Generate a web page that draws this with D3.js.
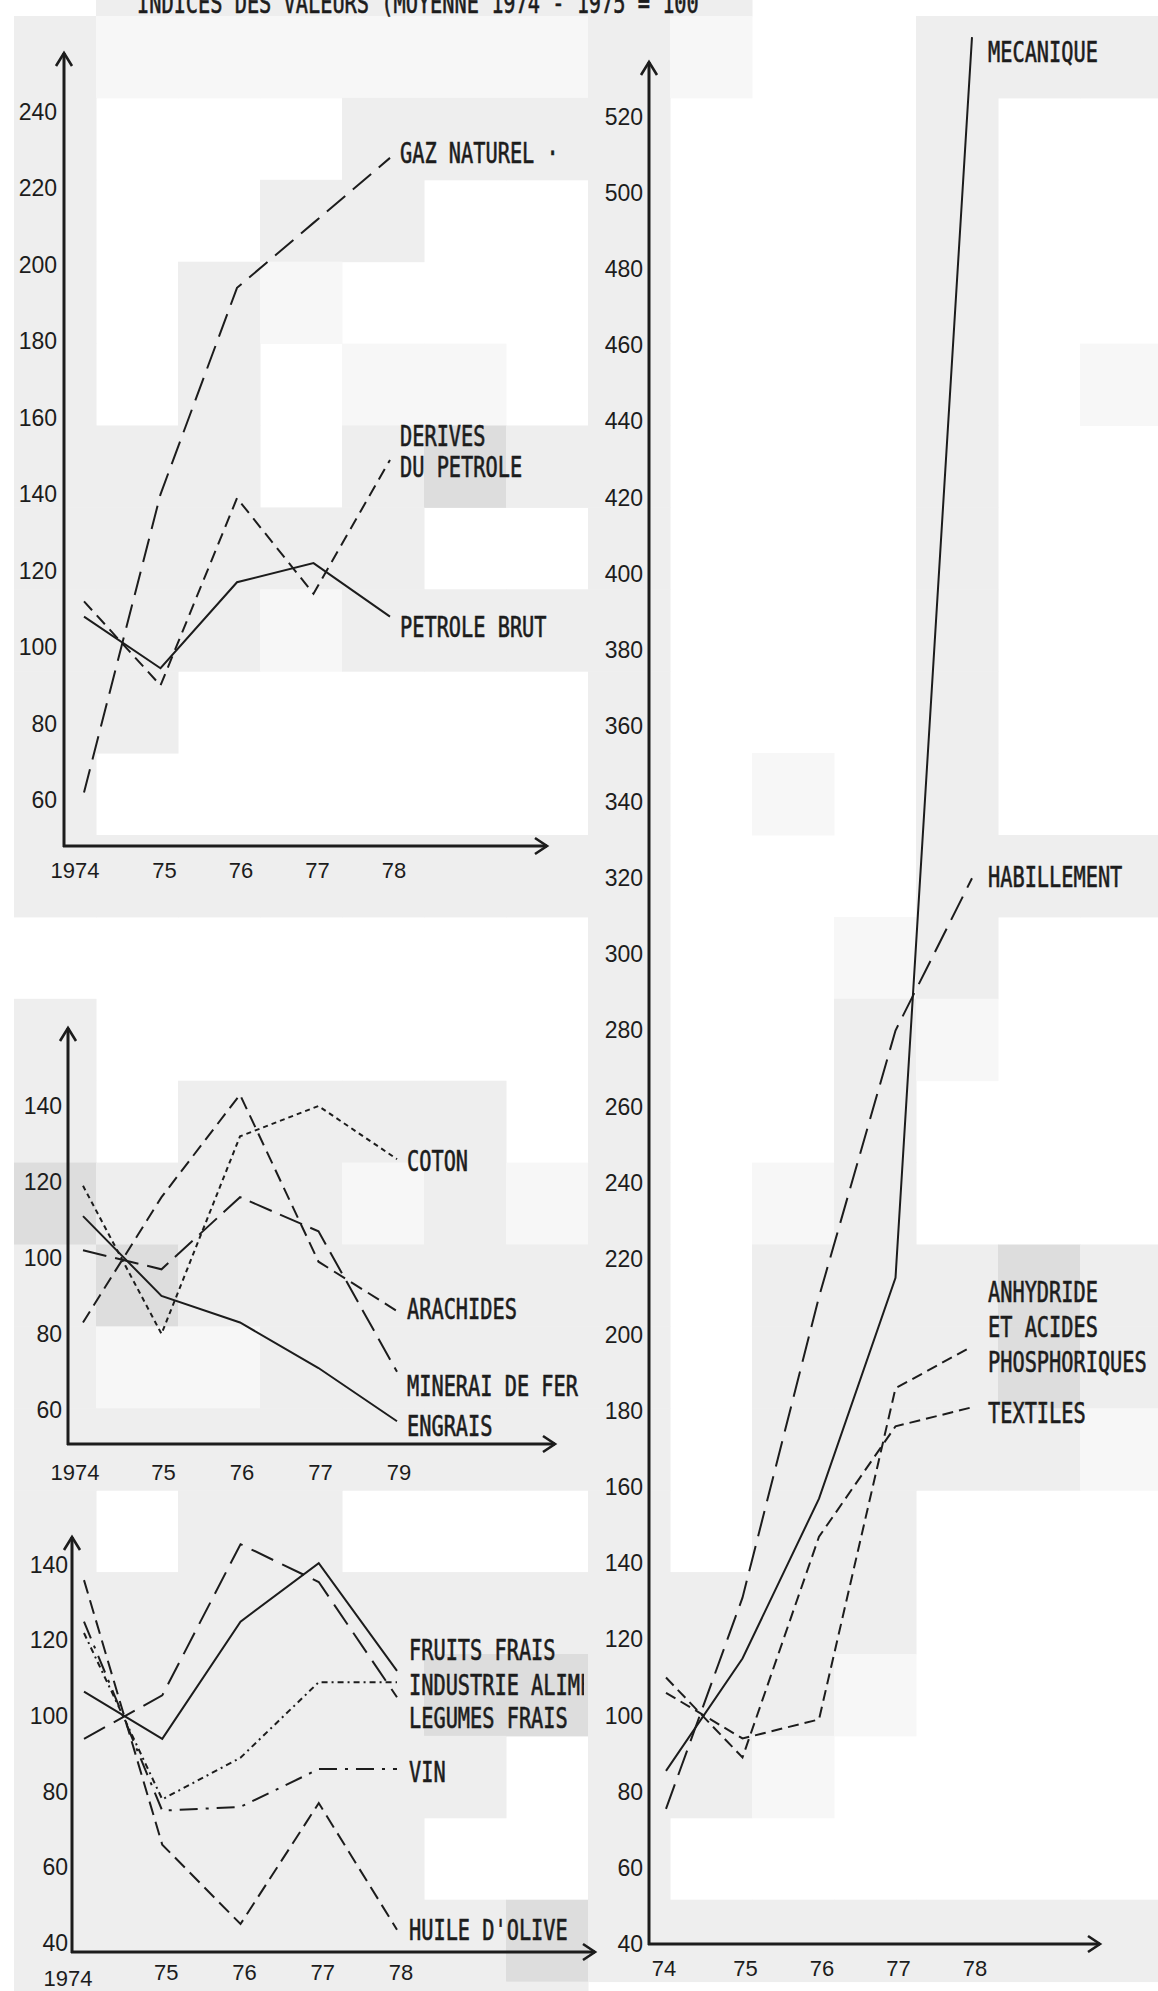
<!DOCTYPE html>
<html><head><meta charset="utf-8">
<script src="https://cdn.jsdelivr.net/npm/d3@7"></script>
<style>body{margin:0;background:#fff;} svg{display:block;}</style>
</head><body>
<script>
// ---------- DATA ----------
const years = [1974, 1975, 1976, 1977, 1978];

// Energie (panel haut gauche)
const gazNaturel     = [62, 140, 194, 211, 228];
const derivesPetrole = [112, 90, 139, 114, 149];
const petroleBrut    = [108, 94.5, 117, 122, 108];

// Produits miniers / agricoles (panel milieu gauche)
const coton          = [119, 80, 132, 140, 126];
const arachides      = [83, 116, 143, 99, 86];
const mineraiFer     = [102, 97, 116, 107, 70];
const engrais        = [111, 90, 83, 71, 57];

// Alimentation (panel bas gauche)
const fruitsFrais    = [106.5, 94, 125, 140.5, 112];
const industrieAlim  = [122, 78, 89, 109, 109];
const legumesFrais   = [94, 105.5, 145.5, 135.5, 105];
const vin            = [125, 75, 76, 86, 86];
const huileOlive     = [136, 66, 45, 77, 43.5];

// Industrie (panel droit)
const mecanique      = [85.5, 115, 157, 215, 541];
const habillement    = [75.5, 131, 210, 280, 320];
const anhydride      = [106, 94, 99, 186, 197];
const textiles       = [110, 89, 147, 176, 181];

// tick labels
const ticksA = [60, 80, 100, 120, 140, 160, 180, 200, 220, 240];
const ticksB = [60, 80, 100, 120, 140];
const ticksC = [40, 60, 80, 100, 120, 140];
const ticksD = [40, 60, 80, 100, 120, 140, 160, 180, 200, 220, 240, 260, 280, 300,
                320, 340, 360, 380, 400, 420, 440, 460, 480, 500, 520];
const yearLabelsA = ["1974", "75", "76", "77", "78"];
const yearLabelsB = ["1974", "75", "76", "77", "79"];
const yearLabelsC = ["1974", "75", "76", "77", "78"];
const yearLabelsD = ["74", "75", "76", "77", "78"];

const titleText = "INDICES DES VALEURS (MOYENNE 1974 - 1975 = 100";
const namesA = ["GAZ NATUREL ·", "DERIVES", "DU PETROLE", "PETROLE BRUT"];
const namesB = ["COTON", "ARACHIDES", "MINERAI DE FER", "ENGRAIS"];
const namesC = ["FRUITS FRAIS", "INDUSTRIE ALIMENTAIRE", "LEGUMES FRAIS", "VIN", "HUILE D'OLIVE"];
const namesD = ["MECANIQUE", "HABILLEMENT", "ANHYDRIDE", "ET ACIDES", "PHOSPHORIQUES", "TEXTILES"];

// scanned-paper background tone grid (W white, V very light, L light, D darker)
const bgRows = [
  "WLLLLLLLLWWWWW",
  "LVVVVVVLVWWLLL",
  "LWWWLLLLWWWLWW",
  "LWWLLWWLWWWLWW",
  "LWLVWWWLWWWLWW",
  "LWLWVVWLWWWLWV",
  "LLLWLDLLWWWLWW",
  "LLLLLWWLWWWLWW",
  "LLLVLLLLWWWLWW",
  "LLWWWWWLWWWLWW",
  "LWWWWWWLWVWLWW",
  "LLLLLLLLWWWLLL",
  "WWWWWWWLWWVLWW",
  "LWWWWWWLWWLVWW",
  "LWLLLLWLWWLWWW",
  "DLLLVLVLWVLWWW",
  "LDLLLLLLWLLLDL",
  "LVVLLLLLWLLLDL",
  "LLLLLLLLWLLLLV",
  "LWLLWWWLWLLWWW",
  "LLLLLLLLLLLWWW",
  "LLLLLDDLLLVWWW",
  "LLLLLLWLLVWWWW",
  "LLLLLWWLWWWWWW",
  "LLLLLLDLLLLLLL",
  "LLLLLLLWWWWWWW"
];

// ---------- DRAW ----------
const W = 1158, H = 1991;
const INK = "#1c1c1c";
const svg = d3.select("body").append("svg").attr("width", W).attr("height", H);

const shade = {L: "#eeeeee", V: "#f7f7f7", D: "#dddddd"};
const bg = svg.append("g");
bgRows.forEach((row, j) => {
  row.split("").forEach((c, i) => {
    if (shade[c]) bg.append("rect")
      .attr("x", 14 + i * 82).attr("y", -65.9 + j * 81.9)
      .attr("width", 82.5).attr("height", 82.4)
      .attr("fill", shade[c]);
  });
});

function stencil(g, text, x, yc) {
  return g.append("text")
    .attr("transform", `translate(${x},${yc + 10}) scale(1,1.37)`)
    .attr("font-family", "'DejaVu Sans Mono','Liberation Mono',monospace")
    .attr("font-size", 20.3)
    .attr("fill", INK)
    .attr("stroke", INK).attr("stroke-width", 0.45)
    .text(text);
}

stencil(svg, titleText, 137, 3);

const panels = [
  { x0: 64, xr: [84, 390], yd: [48, 240], yr: [846, 112], top: 53, right: 547,
    ticks: ticksA, pad: 7, yl: yearLabelsA, ylDy: [24, 24], ylDx: [-9, 4],
    series: [
      {v: gazNaturel, dash: "24,10"},
      {v: derivesPetrole, dash: "12,7"},
      {v: petroleBrut, dash: null}],
    names: namesA, nameAt: [229.3, 155.2, 147.1, 105.3], nameDx: 10 },
  { x0: 68, xr: [83, 397], yd: [51, 140], yr: [1444, 1106], top: 1028, right: 555,
    ticks: ticksB, pad: 6, yl: yearLabelsB, ylDy: [28, 28], ylDx: [-8, 2],
    series: [
      {v: coton, dash: "5,4"},
      {v: arachides, dash: "13,7"},
      {v: mineraiFer, dash: "24,9"},
      {v: engrais, dash: null}],
    names: namesB, nameAt: [125.5, 86.5, 66.3, 55.7], nameDx: 10 },
  { x0: 72, xr: [84, 397], yd: [37.6, 140], yr: [1952, 1565], top: 1537, right: 595,
    ticks: ticksC, pad: 4, yl: yearLabelsC, ylDy: [26, 20], ylDx: [-16, 4],
    series: [
      {v: fruitsFrais, dash: null},
      {v: industrieAlim, dash: "6,4,2,4"},
      {v: legumesFrais, dash: "24,10"},
      {v: vin, dash: "18,8,3,8"},
      {v: huileOlive, dash: "14,7"}],
    names: namesC, nameAt: [117.5, 108.3, 99.5, 85.2, 43.4], nameDx: 12, clip: 584 },
  { x0: 649, xr: [666, 972], yd: [40, 520], yr: [1944, 117], top: 62, right: 1100,
    ticks: ticksD, pad: 6, yl: yearLabelsD, ylDy: [24, 24], ylDx: [-2, 3],
    series: [
      {v: mecanique, dash: null},
      {v: habillement, dash: "26,10"},
      {v: anhydride, dash: "11,6"},
      {v: textiles, dash: "11,6"}],
    names: namesD, nameAt: [537.1, 320.3, 211.3, 202.1, 192.9, 179.5], nameDx: 16 }
];

panels.forEach((p, pi) => {
  const g = svg.append("g");
  const x = d3.scaleLinear().domain([years[0], years[years.length - 1]]).range(p.xr);
  const y = d3.scaleLinear().domain(p.yd).range(p.yr);
  const yBase = p.yr[0];

  // tick labels via d3 axis
  const ax = g.append("g").attr("transform", `translate(${p.x0},0)`)
    .call(d3.axisLeft(y).tickValues(p.ticks).tickSize(0).tickPadding(p.pad));
  ax.select(".domain").remove();
  ax.selectAll("text")
    .attr("font-family", "'Liberation Sans',Arial,sans-serif")
    .attr("font-size", 23).attr("fill", INK);

  // axes with arrows
  g.append("line").attr("x1", p.x0).attr("y1", yBase + 1).attr("x2", p.x0).attr("y2", p.top)
    .attr("stroke", INK).attr("stroke-width", 3);
  g.append("line").attr("x1", p.x0 - 1).attr("y1", yBase).attr("x2", p.right).attr("y2", yBase)
    .attr("stroke", INK).attr("stroke-width", 3);
  g.append("path").attr("d", `M${p.x0 - 8},${p.top + 13}L${p.x0},${p.top}L${p.x0 + 8},${p.top + 13}`)
    .attr("fill", "none").attr("stroke", INK).attr("stroke-width", 2.6);
  g.append("path").attr("d", `M${p.right - 12},${yBase - 8}L${p.right},${yBase}L${p.right - 12},${yBase + 8}`)
    .attr("fill", "none").attr("stroke", INK).attr("stroke-width", 2.6);

  // year labels
  p.yl.forEach((t, i) => {
    g.append("text")
      .attr("x", x(years[i]) + (i === 0 ? p.ylDx[0] : p.ylDx[1]))
      .attr("y", yBase + (i === 0 ? p.ylDy[0] : p.ylDy[1]))
      .attr("dy", "0.35em").attr("text-anchor", "middle")
      .attr("font-family", "'Liberation Sans',Arial,sans-serif")
      .attr("font-size", 22).attr("fill", INK).text(t);
  });

  // series
  const line = d3.line().x((d, i) => x(years[i])).y(d => y(d));
  p.series.forEach(s => {
    g.append("path").attr("d", line(s.v))
      .attr("fill", "none").attr("stroke", INK).attr("stroke-width", 2)
      .attr("stroke-linejoin", "miter")
      .attr("stroke-dasharray", s.dash);
  });

  // series names
  const lg = g.append("g");
  if (p.clip) {
    svg.append("clipPath").attr("id", "clip" + pi).append("rect")
      .attr("x", 0).attr("y", 0).attr("width", p.clip).attr("height", H);
    lg.attr("clip-path", `url(#clip${pi})`);
  }
  p.names.forEach((n, i) => {
    stencil(lg, n, x(years[years.length - 1]) + p.nameDx, y(p.nameAt[i]));
  });
});
</script>
</body></html>
